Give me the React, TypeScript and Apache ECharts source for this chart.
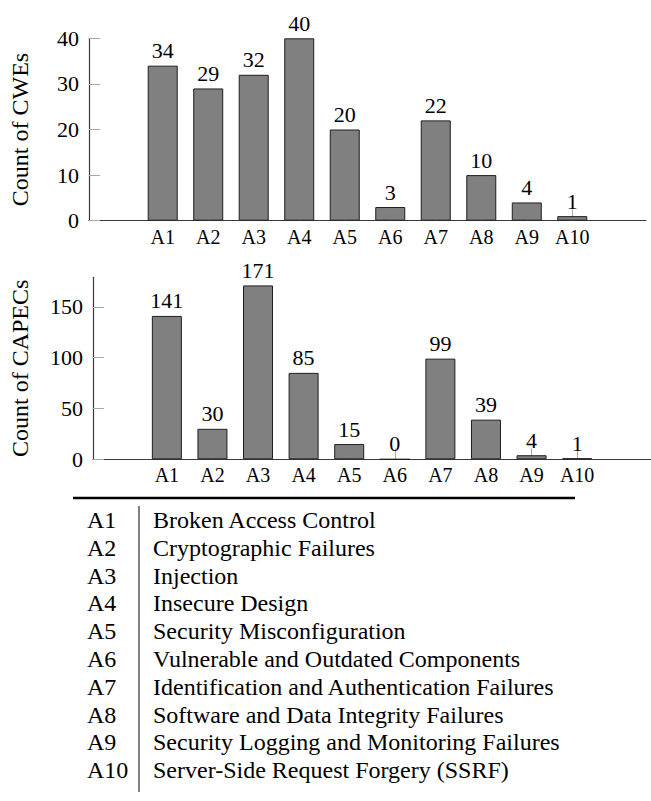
import React, { useEffect, useRef } from "react";
import * as echarts from "echarts";

const categories = ["A1", "A2", "A3", "A4", "A5", "A6", "A7", "A8", "A9", "A10"];
const cweCounts = [34, 29, 32, 40, 20, 3, 22, 10, 4, 1];
const capecCounts = [141, 30, 171, 85, 15, 0, 99, 39, 4, 1];
const cweTicks = [0, 10, 20, 30, 40];
const capecTicks = [0, 50, 100, 150];
const cweMax = 40;
const capecMax = 179;
const tableDescriptions = [
  "Broken Access Control",
  "Cryptographic Failures",
  "Injection",
  "Insecure Design",
  "Security Misconfiguration",
  "Vulnerable and Outdated Components",
  "Identification and Authentication Failures",
  "Software and Data Integrity Failures",
  "Security Logging and Monitoring Failures",
  "Server-Side Request Forgery (SSRF)",
];

const FONT = "Liberation Serif";
const catPositions = categories.map((_, i) => i + 1);

function makeXAxis(gridIndex: number) {
  return {
    type: "value",
    gridIndex,
    min: -0.62,
    max: 11.62,
    splitLine: { show: false },
    axisLine: { show: true, onZero: false, lineStyle: { color: "#3a3a3a", width: 1.2 } },
    axisTick: {
      show: true,
      inside: true,
      length: 11,
      customValues: catPositions,
      lineStyle: { color: "#a8a8a8", width: 1 },
    },
    axisLabel: {
      show: true,
      customValues: catPositions,
      margin: 6,
      fontFamily: FONT,
      fontSize: 20,
      color: "#000",
      formatter: (v: number) => categories[Math.round(v) - 1] ?? "",
    },
  };
}

function makeYAxis(gridIndex: number, max: number, ticks: number[], name: string, nameGap: number) {
  return {
    type: "value",
    gridIndex,
    min: 0,
    max,
    name,
    nameLocation: "middle",
    nameGap,
    nameTextStyle: { fontFamily: FONT, fontSize: 24, color: "#000" },
    splitLine: { show: false },
    axisLine: { show: true, onZero: false, lineStyle: { color: "#3a3a3a", width: 1.2 } },
    axisTick: {
      show: true,
      inside: true,
      length: 11,
      customValues: ticks,
      lineStyle: { color: "#a8a8a8", width: 1 },
    },
    axisLabel: {
      show: true,
      customValues: ticks,
      margin: 10,
      fontFamily: FONT,
      fontSize: 22,
      color: "#000",
    },
  };
}

function makeBarSeries(idx: number, values: number[]) {
  return {
    type: "bar",
    xAxisIndex: idx,
    yAxisIndex: idx,
    barWidth: 30,
    data: values.map((v, i) => [catPositions[i], v]),
    itemStyle: { color: "#808080", borderColor: "#1e1e1e", borderWidth: 1 },
    label: {
      show: true,
      position: "top",
      distance: 4,
      fontFamily: FONT,
      fontSize: 22,
      color: "#000",
      formatter: (p: any) => String(p.value[1]),
    },
  };
}

export default function App() {
  const ref = useRef<HTMLDivElement>(null);

  useEffect(() => {
    if (!ref.current) return;
    const chart = echarts.init(ref.current, undefined, { renderer: "svg" });

    const rowTop = 520;
    const rowStep = 27.8;
    const tableElements: any[] = [
      {
        type: "line",
        shape: { x1: 73, y1: 498, x2: 575, y2: 498 },
        style: { stroke: "#000", lineWidth: 2.4 },
      },
      {
        type: "line",
        shape: { x1: 139, y1: 506, x2: 139, y2: 792 },
        style: { stroke: "#000", lineWidth: 1 },
      },
    ];
    categories.forEach((code, i) => {
      const y = rowTop + i * rowStep;
      tableElements.push({
        type: "text",
        x: 87,
        y,
        style: {
          text: code,
          fontFamily: FONT,
          fontSize: 24,
          fill: "#000",
          textAlign: "left",
          textVerticalAlign: "middle",
        },
      });
      tableElements.push({
        type: "text",
        x: 153,
        y,
        style: {
          text: tableDescriptions[i],
          fontFamily: FONT,
          fontSize: 24,
          fill: "#000",
          textAlign: "left",
          textVerticalAlign: "middle",
        },
      });
    });

    chart.setOption({
      animation: false,
      textStyle: { fontFamily: FONT },
      grid: [
        { left: 86, top: 38.3, width: 560, height: 182.4 },
        { left: 90, top: 277.3, width: 561, height: 182 },
      ],
      xAxis: [makeXAxis(0), makeXAxis(1)],
      yAxis: [
        makeYAxis(0, cweMax, cweTicks, "Count of CWEs", 57),
        makeYAxis(1, capecMax, capecTicks, "Count of CAPECs", 61),
      ],
      series: [makeBarSeries(0, cweCounts), makeBarSeries(1, capecCounts)],
      graphic: tableElements,
    });

    return () => chart.dispose();
  }, []);

  return (
    <div
      ref={ref}
      style={{ position: "absolute", left: 0, top: 0, width: 651, height: 801, background: "#fff" }}
    />
  );
}
